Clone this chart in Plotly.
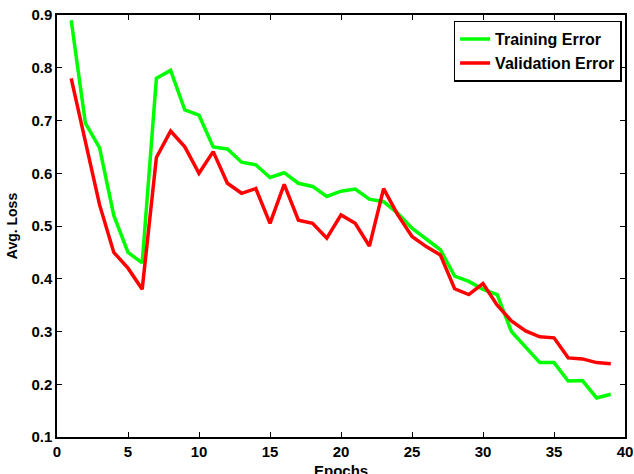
import plotly.graph_objects as go

epochs = list(range(1, 40))
training_error = [0.89, 0.695, 0.648, 0.52, 0.45, 0.43, 0.78, 0.795, 0.72, 0.71,
                  0.65, 0.646, 0.621, 0.616, 0.592, 0.601, 0.581, 0.575, 0.556, 0.566,
                  0.570, 0.551, 0.546, 0.524, 0.496, 0.475, 0.455, 0.405, 0.395, 0.38,
                  0.37, 0.30, 0.271, 0.241, 0.241, 0.206, 0.207, 0.174, 0.181]
validation_error = [0.78, 0.66, 0.54, 0.45, 0.42, 0.38, 0.63, 0.68, 0.65, 0.60,
                    0.641, 0.581, 0.562, 0.571, 0.505, 0.579, 0.511, 0.505, 0.477, 0.521,
                    0.505, 0.462, 0.571, 0.521, 0.48, 0.461, 0.445, 0.381, 0.37, 0.391,
                    0.35, 0.32, 0.301, 0.290, 0.288, 0.250, 0.248, 0.241, 0.239]

x_ticks = [0, 5, 10, 15, 20, 25, 30, 35, 40]
y_ticks = [0.1, 0.2, 0.3, 0.4, 0.5, 0.6, 0.7, 0.8, 0.9]

font_family = "Liberation Sans, Arial, sans-serif"

fig = go.Figure()
fig.add_trace(go.Scatter(x=epochs, y=training_error, mode="lines", name="Training Error",
                         line=dict(color="#00ff00", width=3.5)))
fig.add_trace(go.Scatter(x=epochs, y=validation_error, mode="lines", name="Validation Error",
                         line=dict(color="#ff0000", width=3.5)))

axis_common = dict(
    showgrid=False, zeroline=False, showline=True, linecolor="black", linewidth=1.5,
    mirror="allticks", ticks="inside", ticklen=5, tickwidth=1, tickcolor="black",
    automargin=False, ticklabeloverflow="allow",
    tickfont=dict(family=font_family, size=15, color="black", weight="bold"),
)

fig.update_xaxes(range=[0, 40], tickvals=x_ticks, ticktext=[str(v) for v in x_ticks],
                 **axis_common)
fig.update_yaxes(range=[0.1, 0.9], tickvals=y_ticks, ticktext=[f"{v:.1f}" for v in y_ticks],
                 title=dict(text="<b>Avg. Loss</b>", font=dict(family=font_family, size=14, color="black"),
                            standoff=10),
                 **axis_common)

fig.add_annotation(text="<b>Epochs</b>", xref="paper", yref="paper", x=0.5, y=0,
                   xanchor="center", yanchor="top", yshift=-23, showarrow=False,
                   font=dict(family=font_family, size=15, color="black"))

fig.update_layout(
    width=634, height=474,
    margin=dict(l=57, r=9, t=15, b=37, autoexpand=False),
    paper_bgcolor="white", plot_bgcolor="white",
    showlegend=True,
    legend=dict(x=0.994, y=0.9865, xanchor="right", yanchor="top",
                bgcolor="white", bordercolor="black", borderwidth=1.5,
                font=dict(family=font_family, size=16, color="black", weight="bold"),
                tracegroupgap=0, itemwidth=30),
)

fig.write_html("out.html", config={"displayModeBar": False},
               post_script="document.body.style.margin='0';document.body.style.overflow='hidden';")
